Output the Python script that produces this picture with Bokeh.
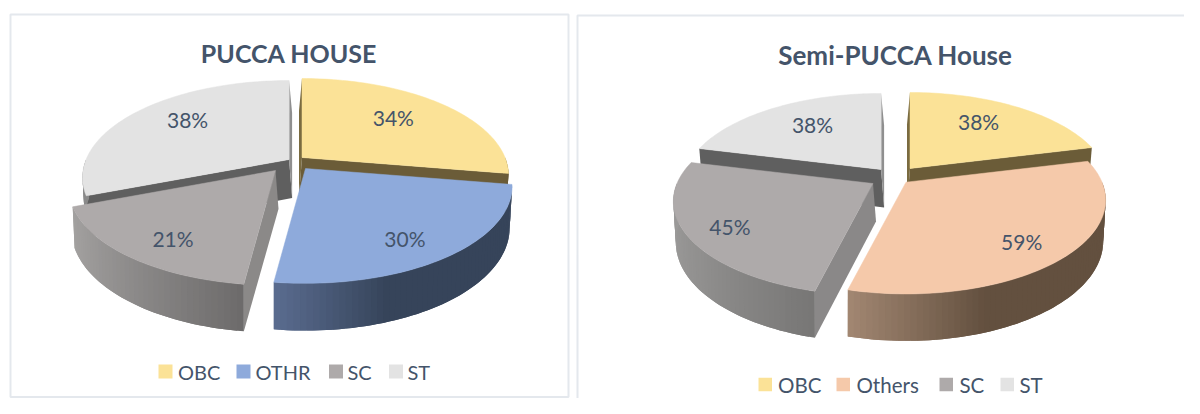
import math
from bokeh.plotting import figure
from bokeh.models import Range1d
from bokeh.core.properties import value
from bokeh.embed import file_html
from bokeh.resources import INLINE

# ---- data -------------------------------------------------------------
left_title = "PUCCA HOUSE"
left_categories = ["OBC", "OTHR", "SC", "ST"]
left_values = [34, 30, 21, 38]

right_title = "Semi-PUCCA House"
right_categories = ["OBC", "Others", "SC", "ST"]
right_values = [38, 59, 45, 38]

# ---- style / layout ----------------------------------------------------
FONT = value("Lato")
TEXT = "#44546a"
BORDER = "#e4e8ed"
YEL, BLUE, GREY, LIGHT, PEACH = "#fbe297", "#8eaadb", "#aeaaaa", "#e3e3e3", "#f5c9aa"

LEFT = dict(
    cx=295, cy=164, R=203, Ry=93.6, k=0.185, D=38.5,
    tops=[YEL, BLUE, GREY, LIGHT],
    offs=[(6.5, -7), (10, 4), (-20, 6), (-6.4, -5)],
    cut=[("#7a6b40", "#6b5c38"), (None, None), ("#8b8988", None), ("#5f5f5f", "#8f8f8f")],
    wall=[("#6b5c38", "#6b5c38", 1), ("#5a6c90", "#36445a", .33),
          ("#a3a1a0", "#6c6a6a", -.12), ("#8a8a8a", "#8a8a8a", 1)],
    labels=[(.45, -.43), (.49, .75), (-.505, .73), (-.50, -.425)],
    title_xy=(288.5, 52), title_size="25px",
    legend_y=371, legend_size="20px",
    legend_mark=[158, 236, 328.5, 388.5], legend_text=[177.5, 255, 347, 407], mark=14,
)
RIGHT = dict(
    cx=895, cy=176, R=196, Ry=90.5, k=0.19, D=38,
    tops=[YEL, PEACH, GREY, LIGHT],
    offs=[(14.5, -8), (10.5, 5.7), (-22.5, 7), (-14.4, -7)],
    cut=[("#7a6b40", "#6b5c38"), (None, None), ("#8a8888", None), ("#5f5f5f", "#8f8f8f")],
    wall=[("#6b5c38", "#6b5c38", 1), ("#a28772", "#63503f", .33),
          ("#9b9a99", "#757473", -.2), ("#8a8a8a", "#8a8a8a", 1)],
    labels=[(.35, -.515), (.59, .655), (-.73, .47), (-.35, -.50)],
    title_xy=(895, 54), title_size="26px",
    legend_y=384, legend_size="20.5px",
    legend_mark=[758, 836, 939, 1000], legend_text=[777.5, 856, 959, 1019], mark=13.5,
)

p = figure(width=1184, height=398, x_range=Range1d(0, 1184), y_range=Range1d(398, 0),
           output_backend="svg", toolbar_location=None, min_border=0)
p.axis.visible = False
p.grid.visible = False
p.outline_line_color = None
p.background_fill_color = "white"


def lerp_hex(a, b, t):
    t = max(0.0, min(1.0, t))
    ca = [int(a[i:i + 2], 16) for i in (1, 3, 5)]
    cb = [int(b[i:i + 2], 16) for i in (1, 3, 5)]
    return "#%02x%02x%02x" % tuple(round(x + (y - x) * t) for x, y in zip(ca, cb))


def draw_pie(values, cats, title, L):
    R, Ry, k, D = L["R"], L["Ry"], L["k"], L["D"]
    total = sum(values)

    def proj(deg):
        th = math.radians(deg)
        u, v = math.sin(th), -math.cos(th)
        s = 1 / (1 - k * v)
        return R * u * s, Ry * v * s, s, u, v

    starts, a = [], 0.0
    for val in values:
        starts.append((a, a + 360.0 * val / total))
        a += 360.0 * val / total

    def top(i, deg):
        ax, ay = L["cx"] + L["offs"][i][0], L["cy"] + L["offs"][i][1]
        dx, dy, *_ = proj(deg)
        return ax + dx, ay + dy

    def floor(i, deg):
        sign = 1 if L["offs"][i][0] < 0 else -1
        x, y = top(i, deg)
        _, _, s, _, v = proj(deg)
        return x + sign * 3 * min(1, 1 - v), y + D * s

    def cut_wall(i, deg, col):
        ax, ay = L["cx"] + L["offs"][i][0], L["cy"] + L["offs"][i][1]
        sign = 1 if L["offs"][i][0] < 0 else -1
        tx, ty = top(i, deg)
        fx, fy = floor(i, deg)
        p.patch([ax, tx, fx, ax + sign * 3], [ay, ty, fy, ay + D], fill_color=col, line_color=None)

    # back slices first, front slices last
    for i in [3, 0, 2, 1]:
        a0, a1 = starts[i]
        # cut faces
        c_start, c_end = L["cut"][i]
        if c_start:
            cut_wall(i, a0, c_start)
        if c_end:
            cut_wall(i, a1, c_end)
        # rim wall with a left to right shade; each strip overlaps the next one
        w0, w1 = max(a0, 90), min(a1, 270)
        c0, c1, stop = L["wall"][i]
        if w1 > w0:
            n = max(2, int((w1 - w0) / 1.5))
            ds = [w0 + (w1 - w0) * j / n for j in range(n + 1)]
            umin = min(proj(d)[3] for d in ds)
            for j in range(n):
                span = ds[j:min(j + 3, n + 1)]
                tp = [top(i, d) for d in span]
                fl = [floor(i, d) for d in reversed(span)]
                um = proj((ds[j] + ds[j + 1]) / 2)[3]
                col = lerp_hex(c0, c1, (um - umin) / (stop - umin)) if stop > umin else c1
                p.patch([q[0] for q in tp + fl], [q[1] for q in tp + fl], fill_color=col, line_color=None)
        # top face
        ax, ay = L["cx"] + L["offs"][i][0], L["cy"] + L["offs"][i][1]
        n = max(8, int((a1 - a0) / 1.5))
        pts = [top(i, a0 + (a1 - a0) * j / n) for j in range(n + 1)]
        p.patch([ax] + [q[0] for q in pts], [ay] + [q[1] for q in pts],
                fill_color=L["tops"][i], line_color=L["tops"][i], line_width=0.5)

    # value labels
    for i, val in enumerate(values):
        ax, ay = L["cx"] + L["offs"][i][0], L["cy"] + L["offs"][i][1]
        fx, fy = L["labels"][i]
        p.text([ax + fx * R], [ay + fy * Ry], text=[f"{val}%"], text_font=FONT, text_font_size="21px",
               text_color=TEXT, text_align="center", text_baseline="middle")

    # title
    p.text([L["title_xy"][0]], [L["title_xy"][1]], text=[title], text_font=FONT, text_font_style="bold",
           text_font_size=L["title_size"], text_color=TEXT, text_align="center", text_baseline="middle")

    # legend
    m = L["mark"]
    for i, cat in enumerate(cats):
        mx = L["legend_mark"][i]
        p.quad(left=[mx], right=[mx + m], top=[L["legend_y"] - m / 2], bottom=[L["legend_y"] + m / 2],
               fill_color=L["tops"][i], line_color=None)
        p.text([L["legend_text"][i]], [L["legend_y"]], text=[cat], text_font=FONT, text_font_size=L["legend_size"],
               text_color=TEXT, text_align="left", text_baseline="middle")


# chart frames
p.quad(left=[10], right=[568], top=[14], bottom=[396.5], fill_color="white", line_color=BORDER, line_width=2)
p.quad(left=[577], right=[1230], top=[15], bottom=[450], fill_color="white", line_color=BORDER, line_width=2)

draw_pie(left_values, left_categories, left_title, LEFT)
draw_pie(right_values, right_categories, right_title, RIGHT)

open("out.html", "w").write(file_html(p, INLINE))
